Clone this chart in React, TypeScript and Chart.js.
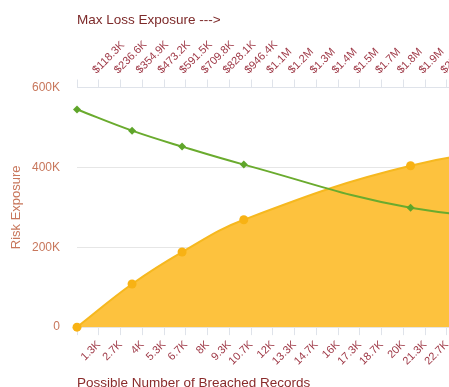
import { useEffect, useRef } from "react";
import { Chart, registerables } from "chart.js";

Chart.register(...registerables);

// Breach scenarios: number of records vs. exposure
const breachedRecords = [0, 3300, 6300, 10000, 20000, 30000];
const riskExposure = [0, 108000, 188000, 269000, 404000, 470000];
const maxLossExposure = [545000, 492000, 452000, 407000, 299000, 262000];

const recordStep = 4000 / 3;
const recordMax = 30000;

const recordTickLabels = [
  "", "1.3K", "2.7K", "4K", "5.3K", "6.7K", "8K", "9.3K", "10.7K", "12K", "13.3K",
  "14.7K", "16K", "17.3K", "18.7K", "20K", "21.3K", "22.7K", "24K", "25.3K", "26.7K",
  "28K", "29.3K", "30K",
];
const lossTickLabels = [
  "", "$118.3K", "$236.6K", "$354.9K", "$473.2K", "$591.5K", "$709.8K", "$828.1K",
  "$946.4K", "$1.1M", "$1.2M", "$1.3M", "$1.4M", "$1.5M", "$1.7M", "$1.8M", "$1.9M",
  "$2M", "$2.1M", "$2.2M", "$2.4M", "$2.5M", "$2.6M", "$2.7M",
];
const riskTickLabels = ["0", "200K", "400K", "600K"];

const FONT = "'Liberation Sans', Arial, sans-serif";

export default function App() {
  const canvasRef = useRef<HTMLCanvasElement | null>(null);

  useEffect(() => {
    if (!canvasRef.current) return;
    const tickIndex = (v: number) => Math.round(v / recordStep);
    const chart = new Chart(canvasRef.current, {
      type: "line",
      data: {
        datasets: [
          {
            label: "Max Loss Exposure",
            data: breachedRecords.map((x, i) => ({ x, y: maxLossExposure[i] })),
            borderColor: "#6aab2e",
            backgroundColor: "#5fa52a",
            borderWidth: 2,
            pointStyle: "rectRot",
            pointRadius: 4,
            pointBorderWidth: 0,
            tension: 0.4,
            fill: false,
            clip: false,
            order: 0,
          },
          {
            label: "Risk Exposure",
            data: breachedRecords.map((x, i) => ({ x, y: riskExposure[i] })),
            borderColor: "#f6b81f",
            backgroundColor: "#fdc23e",
            pointBackgroundColor: "#f8b214",
            borderWidth: 2,
            pointRadius: 4.5,
            pointBorderWidth: 0,
            tension: 0.4,
            fill: "origin",
            clip: false,
            order: 1,
          },
        ],
      },
      options: {
        animation: false,
        responsive: true,
        maintainAspectRatio: false,
        plugins: { legend: { display: false }, tooltip: { enabled: false } },
        layout: { padding: { left: 1, top: 8, right: 0, bottom: 0 } },
        scales: {
          x: {
            type: "linear",
            position: "bottom",
            min: 0,
            max: recordMax,
            grid: { drawOnChartArea: false, color: "#dfe3ea", tickLength: 8 },
            border: { display: false },
            ticks: {
              stepSize: recordStep,
              autoSkip: false,
              minRotation: 45,
              maxRotation: 45,
              color: "#9e3846",
              font: { family: FONT, size: 11 },
              callback: (v) => recordTickLabels[tickIndex(Number(v))] ?? "",
            },
            title: {
              display: true,
              text: "Possible Number of Breached Records",
              align: "start",
              color: "#8a2b2b",
              font: { family: FONT, size: 13.5 },
            },
          },
          xTop: {
            type: "linear",
            position: "top",
            min: 0,
            max: recordMax,
            grid: { drawOnChartArea: false, color: "#dfe3ea", tickLength: 8 },
            border: { display: true, color: "#dfe3ea" },
            ticks: {
              stepSize: recordStep,
              autoSkip: false,
              minRotation: 45,
              maxRotation: 45,
              labelOffset: 5,
              color: "#9e3846",
              font: { family: FONT, size: 11 },
              callback: (v) => lossTickLabels[tickIndex(Number(v))] ?? "",
            },
            title: {
              display: true,
              text: "Max Loss Exposure --->",
              align: "start",
              color: "#7d2a2a",
              font: { family: FONT, size: 13.5 },
              padding: { top: 4, bottom: 7 },
            },
          },
          y: {
            type: "linear",
            min: 0,
            max: 600000,
            afterFit: (scale) => {
              scale.width = 76;
            },
            grid: { color: "#e6e6e6", drawTicks: false },
            border: { display: false },
            ticks: {
              stepSize: 200000,
              padding: 17,
              color: "#c8775c",
              font: { family: FONT, size: 12 },
              callback: (_v, i) => riskTickLabels[i] ?? "",
            },
            title: {
              display: true,
              text: "Risk Exposure",
              color: "#c8775c",
              font: { family: FONT, size: 13 },
              padding: { top: 8, bottom: 6 },
            },
          },
        },
      },
    });
    return () => chart.destroy();
  }, []);

  return (
    <div style={{ position: "fixed", left: 0, top: 0, width: "100vw", height: "100vh", overflow: "hidden", background: "#fff" }}>
      <div style={{ position: "relative", width: 602, height: 395 }}>
        <canvas ref={canvasRef} />
      </div>
    </div>
  );
}
